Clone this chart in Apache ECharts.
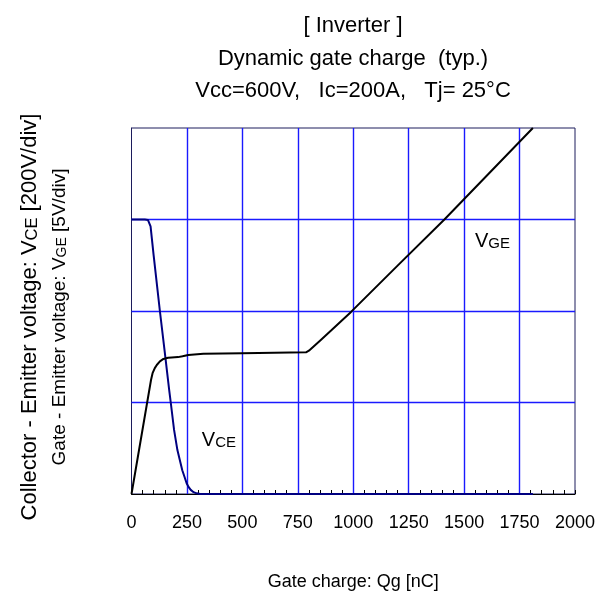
<!DOCTYPE html>
<html>
<head>
<meta charset="utf-8">
<script src="https://cdn.jsdelivr.net/npm/echarts@6/dist/echarts.min.js"></script>
<style>
  html, body { margin: 0; padding: 0; background: #fff; }
  #chart { width: 610px; height: 609px; }
</style>
</head>
<body>
<div id="chart"></div>
<script>
// Gate charge [nC] sample points and collector-emitter voltage [V]
const qgVce = [0, 60, 74, 80, 86, 100, 128, 150, 170, 177, 192, 207, 220, 229, 240, 249, 258, 267, 280, 294, 310, 1810];
const vce   = [600, 600, 599, 596, 585, 521, 400, 310, 227, 200, 140, 96, 70, 52, 36, 23, 15, 9, 4, 1.5, 0, 0];

// Gate charge [nC] sample points and gate-emitter voltage [V]
const qgVge = [0, 88, 95, 105, 114, 128, 144, 165, 181, 210, 230, 256, 324, 500, 787, 800, 820, 850, 900, 990, 1200, 1411, 1810];
const vge   = [0, 6.23, 6.6, 6.88, 7.05, 7.25, 7.38, 7.44, 7.46, 7.48, 7.53, 7.6, 7.66, 7.69, 7.74, 7.83, 8.05, 8.38, 8.93, 9.95, 12.48, 15, 20];

// Axis ranges / divisions
const xTicks = [0, 250, 500, 750, 1000, 1250, 1500, 1750, 2000];
const vceTicks = [0, 200, 400, 600, 800];   // 200 V/div
const vgeRange = [0, 20];                   // 5 V/div

const titleLines = ['[ Inverter ]', 'Dynamic gate charge  (typ.)', 'Vcc=600V,   Ic=200A,   Tj= 25°C'];

const FONT = '"Liberation Sans", Arial, sans-serif';
const GRID_BLUE = '#1a1aff';

const chart = echarts.init(document.getElementById('chart'), null, { renderer: 'canvas' });

const labelRich = {
  a: { fontFamily: FONT, fontSize: 20, color: '#000', lineHeight: 24, verticalAlign: 'bottom' },
  b: { fontFamily: FONT, fontSize: 15, color: '#000', lineHeight: 20.5, verticalAlign: 'bottom' }
};

const axisNameRich = {
  a: { fontFamily: FONT, fontSize: 22, color: '#000', lineHeight: 31, verticalAlign: 'bottom' },
  b: { fontFamily: FONT, fontSize: 16.5, color: '#000', lineHeight: 27, verticalAlign: 'bottom' },
  c: { fontFamily: FONT, fontSize: 19, color: '#000', lineHeight: 29, verticalAlign: 'bottom' },
  d: { fontFamily: FONT, fontSize: 14, color: '#000', lineHeight: 25, verticalAlign: 'bottom' }
};

const titleY = [26, 59, 91];

// Inner grid lines (the outer frame is the grid border)
const gridLines = xTicks.slice(1, -1).map(v => ({ xAxis: v }))
  .concat(vceTicks.slice(1, -1).map(v => ({ yAxis: v })));

chart.setOption({
  animation: false,
  backgroundColor: '#fff',
  graphic: titleLines.map((t, i) => ({
    type: 'text',
    x: 353,
    y: titleY[i],
    style: {
      text: t,
      font: '22px ' + FONT,
      fill: '#000',
      align: 'center',
      verticalAlign: 'middle'
    }
  })),
  grid: {
    left: 131.5, right: 35, top: 128, bottom: 115,
    show: true,
    borderColor: '#1c1c5c',
    borderWidth: 1,
    backgroundColor: 'transparent'
  },
  xAxis: {
    type: 'value',
    min: xTicks[0],
    max: xTicks[xTicks.length - 1],
    interval: xTicks[1] - xTicks[0],
    name: 'Gate charge: Qg [nC]',
    nameLocation: 'middle',
    nameGap: 79,
    nameTextStyle: { fontFamily: FONT, fontSize: 18, color: '#000' },
    axisLine: { show: true, lineStyle: { color: '#000', width: 1 } },
    axisTick: { show: true, inside: true, length: 4, lineStyle: { color: '#000', width: 1 } },
    minorTick: { show: true, splitNumber: 5, length: 4, lineStyle: { color: '#000', width: 1 } },
    axisLabel: { fontFamily: FONT, fontSize: 18, color: '#000', margin: 20, formatter: v => String(v) },
    splitLine: { show: false }
  },
  yAxis: [
    {
      type: 'value',
      min: vceTicks[0],
      max: vceTicks[vceTicks.length - 1],
      interval: vceTicks[1] - vceTicks[0],
      name: '{a|Collector - Emitter voltage: V}{b|CE}{a| [200V/div]}\n{c|Gate - Emitter voltage: V}{d|GE}{c| [5V/div]}',
      nameLocation: 'middle',
      nameRotate: 90,
      nameGap: 62,
      nameTextStyle: { rich: axisNameRich, align: 'center', padding: [0, 12, 0, 0] },
      axisLine: { show: true, lineStyle: { color: '#1c1c5c', width: 1 } },
      axisTick: { show: false },
      axisLabel: { show: false },
      splitLine: { show: false }
    },
    {
      type: 'value',
      min: vgeRange[0],
      max: vgeRange[1],
      interval: 5,
      show: false,
      splitLine: { show: false }
    }
  ],
  series: [
    {
      name: 'VCE',
      type: 'line',
      yAxisIndex: 0,
      data: qgVce.map((q, i) => [q, vce[i]]),
      showSymbol: false,
      smooth: false,
      lineStyle: { color: '#000080', width: 2 },
      z: 3,
      markLine: {
        silent: true,
        symbol: 'none',
        label: { show: false },
        lineStyle: { color: GRID_BLUE, width: 1.4, type: 'solid', opacity: 1 },
        emphasis: { disabled: true },
        data: gridLines,
        z: 1
      },
      markPoint: {
        symbol: 'circle',
        symbolSize: 0,
        data: [{
          coord: [317, 121],
          label: {
            show: true,
            position: 'inside',
            align: 'left',
            verticalAlign: 'middle',
            formatter: '{a|V}{b|CE}',
            rich: labelRich
          }
        }]
      }
    },
    {
      name: 'VGE',
      type: 'line',
      yAxisIndex: 1,
      data: qgVge.map((q, i) => [q, vge[i]]),
      showSymbol: false,
      smooth: false,
      lineStyle: { color: '#000000', width: 2 },
      z: 4,
      markPoint: {
        symbol: 'circle',
        symbolSize: 0,
        data: [{
          coord: [1549, 13.9],
          label: {
            show: true,
            position: 'inside',
            align: 'left',
            verticalAlign: 'middle',
            formatter: '{a|V}{b|GE}',
            rich: labelRich
          }
        }]
      }
    }
  ]
});
</script>
</body>
</html>
